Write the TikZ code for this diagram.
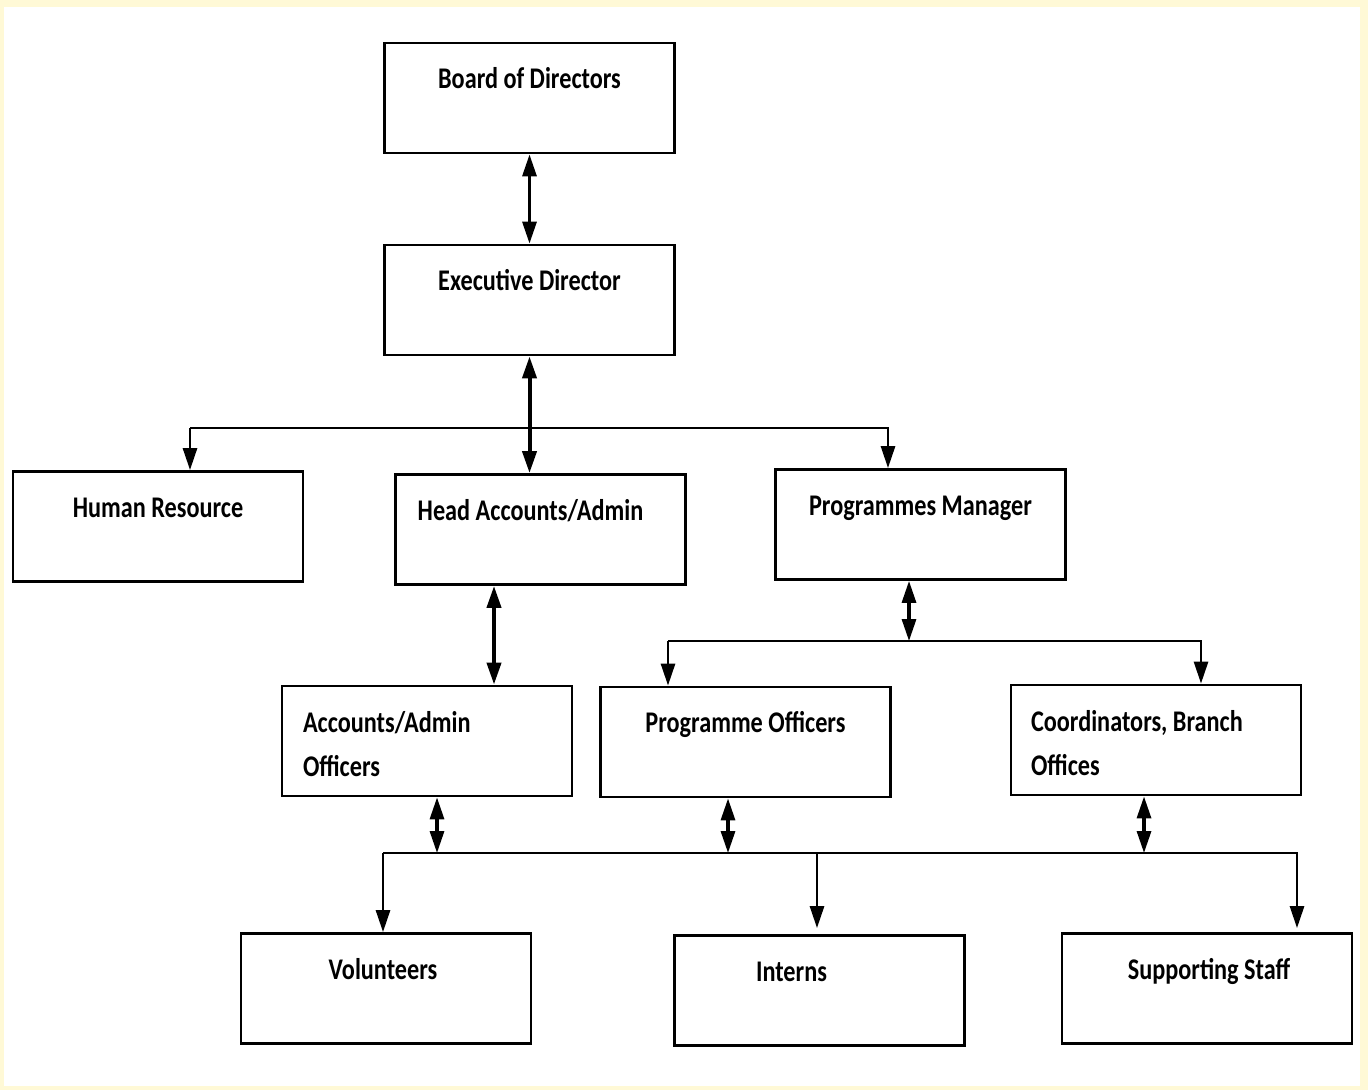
\documentclass[tikz,border=0pt]{standalone}
\usepackage{fontspec}
\setmainfont{Carlito}
\usetikzlibrary{arrows.meta}
\definecolor{paleyellow}{RGB}{255,249,214}
\newcommand{\orgtext}[1]{\scalebox{0.97}[1.2]{#1}}
\tikzset{
  box/.style={draw, line width=1.4pt, minimum width=145pt, minimum height=55pt, inner sep=0pt},
  lbl/.style={font=\bfseries\fontsize{12.5}{15}\selectfont, anchor=base, inner sep=0pt},
  lbltwo/.style={font=\bfseries\fontsize{12.5}{22}\selectfont, anchor=north west, align=left, inner sep=0pt},
  link/.style={line width=1.6pt, {Triangle[width=7pt,length=11pt]}-{Triangle[width=7pt,length=11pt]}},
  down/.style={line width=1.4pt, -{Triangle[width=7pt,length=11pt]}}
}
\begin{document}
\begin{tikzpicture}[x=0.5pt, y=-0.5pt]
  \fill[paleyellow] (0,0) rectangle (1368,1090);
  \fill[white] (4,7) rectangle (1360,1086);
  \useasboundingbox (0,0) rectangle (1368,1090);

  % top of the chart
  \node[box] (board) at (529.5,98) {};
  \node[lbl] (board-t) at ([yshift=-23.5pt]board.north) {\orgtext{Board of Directors}};
  \node[box] (exec) at (529.5,300) {};
  \node[lbl] (exec-t) at ([yshift=-23.5pt]exec.north) {\orgtext{Executive Director}};

  % second row
  \node[box] (hr) at (158,526.5) {};
  \node[lbl] (hr-t) at ([yshift=-23.5pt]hr.north) {\orgtext{Human Resource}};
  \node[box] (head) at (540.5,529.5) {};
  \node[lbl] (head-t) at ([xshift=-5pt,yshift=-23.5pt]head.north) {\orgtext{Head Accounts/Admin}};
  \node[box] (pm) at (920.5,524.5) {};
  \node[lbl] (pm-t) at ([yshift=-23.5pt]pm.north) {\orgtext{Programmes Manager}};

  % third row
  \node[box] (accoff) at (427,741) {};
  \node[lbltwo] (accoff-t) at ([xshift=11pt,yshift=-13pt]accoff.north west) {\orgtext{Accounts/Admin}\\\orgtext{Officers}};
  \node[box] (progoff) at (745.5,742) {};
  \node[lbl] (progoff-t) at ([yshift=-23.5pt]progoff.north) {\orgtext{Programme Officers}};
  \node[box] (coord) at (1156,740) {};
  \node[lbltwo] (coord-t) at ([xshift=10.5pt,yshift=-13pt]coord.north west) {\orgtext{Coordinators, Branch}\\\orgtext{Offices}};

  % bottom row
  \node[box] (vol) at (386,988.5) {};
  \node[lbl] (vol-t) at ([xshift=-1.5pt,yshift=-23.5pt]vol.north) {\orgtext{Volunteers}};
  \node[box] (interns) at (819.5,990.5) {};
  \node[lbl] (interns-t) at ([xshift=-14pt,yshift=-23.5pt]interns.north) {\orgtext{Interns}};
  \node[box] (supp) at (1207,988.5) {};
  \node[lbl] (supp-t) at ([xshift=1pt,yshift=-23.5pt]supp.north) {\orgtext{Supporting Staff}};

  % bus points
  \coordinate (busa-l) at (190,428);
  \coordinate (busa-r) at (888,428);
  \coordinate (busb) at (909,641);
  \coordinate (busb-l) at (668,641);
  \coordinate (busb-r) at (1201,641);
  \coordinate (busc-l) at (383,853);
  \coordinate (busc-m) at (817,853);
  \coordinate (busc-r) at (1297,853);

  % connectors
  \draw[link] (board.south) -- (exec.north);
  \draw[link, line width=2pt] (exec.south) -- (head.north -| exec.south);
  \draw[down] (busa-l) -- (busa-r) -- (pm.north -| busa-r);
  \draw[down] (busa-l) -- (hr.north -| busa-l);
  \draw[link, line width=2pt] (head.south -| 494,0) -- (accoff.north -| 494,0);
  \draw[link] (pm.south -| busb) -- (busb);
  \draw[down] (busb-l) -- (busb-r) -- (coord.north -| busb-r);
  \draw[down] (busb-l) -- (progoff.north -| busb-l);
  \draw[link] (accoff.south -| 437,0) -- (busc-l -| 437,0);
  \draw[link] (progoff.south -| 728,0) -- (busc-l -| 728,0);
  \draw[link] (coord.south -| 1144,0) -- (busc-l -| 1144,0);
  \draw[down] (busc-l) -- (busc-r) -- ([yshift=2pt]supp.north -| busc-r);
  \draw[down] (busc-l) -- (vol.north -| busc-l);
  \draw[down] (busc-m) -- ([yshift=3pt]interns.north -| busc-m);
\end{tikzpicture}
\end{document}
